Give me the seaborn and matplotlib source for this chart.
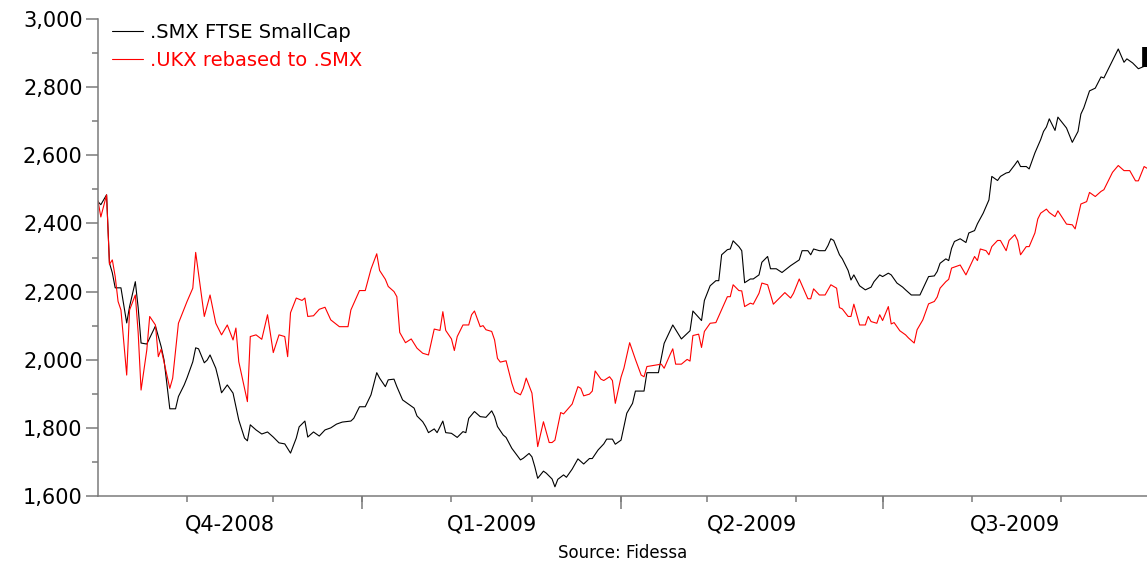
import pandas as pd
import matplotlib
matplotlib.use("Agg")
import matplotlib.pyplot as plt
import matplotlib.dates as mdates
import matplotlib.ticker as mticker
from matplotlib.transforms import offset_copy
import seaborn as sns

sns.set_style("ticks")
plt.rcParams['font.family'] = ['DejaVu Sans']

# day offsets from 1 Oct 2008
start = pd.Timestamp("2008-10-01")

smx_name = ".SMX FTSE SmallCap"
smx_day = [0, 1, 3, 4, 5, 6, 8, 10, 11, 13,
           14, 15, 17, 20, 22, 23, 25, 27, 28, 30,
           31, 33, 34, 35, 37, 38, 39, 41, 42, 43,
           45, 47, 48, 49, 51, 52, 53, 55, 57, 59,
           61, 63, 65, 67, 69, 70, 72, 73, 75, 77,
           79, 81, 83, 85, 88, 89, 91, 93, 95, 97,
           98, 100, 101, 103, 104, 106, 108, 110, 111, 113,
           114, 115, 117, 118, 120, 121, 123, 125, 127, 128,
           129, 131, 133, 135, 137, 138, 139, 141, 142, 144,
           147, 148, 150, 151, 152, 153, 155, 156, 158, 159,
           160, 162, 163, 165, 167, 169, 171, 172, 174, 176,
           177, 179, 180, 182, 184, 186, 187, 190, 191, 195,
           197, 200, 202, 203, 206, 207, 210, 211, 213, 215,
           216, 217, 219, 220, 221, 223, 224, 225, 227, 228,
           230, 231, 233, 234, 236, 238, 241, 244, 245, 247,
           248, 249, 251, 253, 254, 255, 256, 258, 259, 261,
           262, 263, 265, 267, 269, 270, 272, 273, 275, 276,
           278, 280, 281, 283, 286, 289, 291, 292, 293, 295,
           296, 297, 298, 300, 302, 303, 305, 306, 308, 310,
           311, 313, 314, 316, 317, 319, 320, 321, 323, 324,
           326, 328, 329, 330, 331, 333, 334, 337, 339, 341,
           342, 343, 345, 347, 349, 350, 353, 355, 357, 358,
           360, 362, 364, 365]
smx_val = [2464, 2455, 2484, 2284, 2255, 2211, 2211, 2108, 2156, 2229,
           2152, 2049, 2046, 2099, 2038, 1999, 1856, 1856, 1892, 1926,
           1947, 1994, 2035, 2032, 1991, 1999, 2014, 1975, 1941, 1903,
           1926, 1902, 1862, 1823, 1770, 1762, 1809, 1794, 1782, 1788,
           1773, 1756, 1753, 1726, 1770, 1803, 1820, 1773, 1788, 1776,
           1794, 1800, 1811, 1817, 1820, 1828, 1862, 1862, 1897, 1962,
           1946, 1921, 1941, 1943, 1921, 1882, 1870, 1858, 1835, 1818,
           1804, 1786, 1797, 1786, 1820, 1786, 1784, 1772, 1789, 1786,
           1828, 1848, 1833, 1831, 1850, 1833, 1804, 1779, 1772, 1740,
           1706, 1711, 1725, 1715, 1686, 1652, 1673, 1667, 1650, 1627,
           1649, 1662, 1655, 1679, 1709, 1694, 1710, 1710, 1735, 1753,
           1767, 1767, 1752, 1764, 1843, 1872, 1908, 1908, 1962, 1962,
           2048, 2102, 2075, 2061, 2085, 2143, 2115, 2174, 2217, 2232,
           2232, 2308, 2323, 2325, 2349, 2332, 2320, 2226, 2237, 2237,
           2249, 2286, 2303, 2267, 2267, 2256, 2276, 2293, 2320, 2320,
           2308, 2325, 2320, 2320, 2335, 2355, 2350, 2308, 2296, 2262,
           2234, 2249, 2217, 2205, 2213, 2229, 2249, 2244, 2254, 2249,
           2225, 2213, 2205, 2190, 2190, 2244, 2246, 2259, 2283, 2296,
           2291, 2327, 2347, 2355, 2344, 2372, 2379, 2399, 2430, 2469,
           2538, 2526, 2538, 2548, 2550, 2572, 2584, 2567, 2567, 2560,
           2607, 2646, 2670, 2683, 2707, 2673, 2712, 2680, 2638, 2670,
           2721, 2739, 2789, 2797, 2830, 2827, 2878, 2912, 2873, 2883,
           2871, 2854, 2861, 2861]

ukx_name = ".UKX rebased to .SMX"
ukx_day = [0, 1, 3, 4, 5, 6, 7, 8, 10, 11,
           13, 14, 15, 17, 18, 20, 21, 22, 25, 26,
           28, 31, 33, 34, 37, 39, 41, 43, 45, 47,
           48, 49, 52, 53, 55, 57, 59, 61, 63, 65,
           66, 67, 69, 71, 72, 73, 75, 77, 79, 81,
           84, 87, 88, 91, 93, 95, 97, 98, 100, 101,
           103, 104, 105, 107, 109, 111, 113, 115, 117, 119,
           120, 121, 123, 124, 125, 127, 129, 130, 131, 133,
           134, 135, 137, 138, 139, 140, 142, 144, 145, 147,
           148, 149, 151, 153, 155, 157, 158, 159, 161, 162,
           165, 167, 168, 169, 171, 172, 173, 175, 176, 178,
           179, 180, 182, 183, 185, 187, 189, 190, 191, 196,
           197, 199, 200, 201, 203, 205, 206, 207, 209, 210,
           211, 213, 215, 219, 220, 221, 223, 224, 225, 227,
           228, 230, 231, 233, 235, 239, 241, 242, 244, 247,
           248, 249, 251, 253, 255, 257, 258, 259, 261, 262,
           263, 265, 267, 268, 269, 271, 272, 273, 275, 276,
           277, 279, 281, 282, 284, 285, 287, 289, 291, 292,
           293, 295, 296, 297, 300, 302, 305, 306, 307, 309,
           310, 311, 313, 314, 316, 317, 319, 320, 321, 323,
           324, 326, 327, 328, 330, 331, 333, 334, 337, 339,
           340, 342, 344, 345, 347, 349, 350, 353, 355, 357,
           359, 361, 362, 364, 365]
ukx_val = [2467, 2419, 2484, 2280, 2293, 2244, 2171, 2146, 1955, 2146,
           2190, 2078, 1911, 2029, 2127, 2102, 2009, 2031, 1916, 1946,
           2107, 2171, 2210, 2315, 2127, 2190, 2107, 2073, 2102, 2058,
           2093, 1994, 1877, 2068, 2073, 2060, 2132, 2021, 2073, 2068,
           2009, 2138, 2181, 2174, 2181, 2127, 2129, 2148, 2154, 2117,
           2097, 2097, 2146, 2203, 2203, 2266, 2311, 2262, 2236, 2215,
           2200, 2185, 2080, 2050, 2061, 2034, 2019, 2014, 2090, 2086,
           2141, 2086, 2061, 2027, 2068, 2102, 2102, 2132, 2143, 2097,
           2100, 2088, 2083, 2058, 2004, 1993, 1997, 1931, 1906, 1897,
           1916, 1946, 1902, 1745, 1818, 1757, 1757, 1764, 1845, 1841,
           1870, 1921, 1916, 1894, 1899, 1908, 1967, 1943, 1939, 1950,
           1939, 1872, 1949, 1975, 2050, 2001, 1955, 1950, 1980, 1987,
           1975, 2014, 2032, 1987, 1987, 2001, 1996, 2071, 2075, 2036,
           2083, 2107, 2109, 2185, 2185, 2220, 2203, 2202, 2156, 2166,
           2163, 2195, 2225, 2220, 2163, 2197, 2181, 2195, 2237, 2179,
           2179, 2208, 2190, 2190, 2220, 2210, 2153, 2149, 2127, 2127,
           2163, 2102, 2102, 2127, 2112, 2107, 2132, 2115, 2156, 2105,
           2109, 2085, 2073, 2064, 2049, 2088, 2117, 2164, 2171, 2184,
           2210, 2229, 2236, 2269, 2278, 2249, 2303, 2291, 2325, 2320,
           2308, 2332, 2350, 2350, 2320, 2350, 2367, 2350, 2308, 2332,
           2332, 2372, 2413, 2430, 2442, 2432, 2420, 2437, 2398, 2396,
           2384, 2457, 2464, 2491, 2479, 2494, 2499, 2550, 2570, 2555,
           2555, 2525, 2525, 2567, 2562]

quarter_starts = ["2008-10-01", "2009-01-01", "2009-04-01", "2009-07-01", "2009-10-01"]
quarter_labels = ["Q4-2008", "Q1-2009", "Q2-2009", "Q3-2009"]

df = pd.concat([
    pd.DataFrame({"date": start + pd.to_timedelta(smx_day, unit="D"),
                  "value": smx_val, "series": smx_name}),
    pd.DataFrame({"date": start + pd.to_timedelta(ukx_day, unit="D"),
                  "value": ukx_val, "series": ukx_name}),
], ignore_index=True)

fig = plt.figure(figsize=(11.47, 5.62), dpi=100)
ax = fig.add_axes([0.0854, 0.1174, 0.9146, 0.8488])

sns.lineplot(data=df, x="date", y="value", hue="series",
             palette={smx_name: "black", ukx_name: "#ff0000"},
             estimator=None, sort=False, linewidth=0.8, ax=ax)

# last value box on the SMX line
box_tr = offset_copy(ax.transData, fig=fig, x=0, y=7, units="points")
ax.plot(df[df.series == smx_name].date.iloc[-1:], smx_val[-1:],
        marker="|", ms=15, mew=7, color="black", clip_on=False, transform=box_tr)

grey = "#7a7a7a"
q = pd.to_datetime(quarter_starts)
mids = [q[i] + (q[i + 1] - q[i]) / 2 for i in range(len(quarter_labels))]

ax.set_xlim(q[0], q[-1])
ax.set_xticks(mids)
ax.set_xticklabels(quarter_labels)
ax.set_xticks(pd.date_range(q[0], q[-1], freq="MS")[1:-1], minor=True)
ax.tick_params(axis="x", which="major", length=0, pad=13, labelsize=15, labelcolor="black")
ax.tick_params(axis="x", which="minor", length=4, width=1.1, color=grey)

# longer ticks at the inner quarter boundaries
sec = ax.secondary_xaxis("bottom")
sec.set_xticks(mdates.date2num(q[1:-1]))
sec.set_xticklabels([])
sec.tick_params(length=9, width=1.1, color=grey)
sec.spines["bottom"].set_visible(False)

ax.set_ylim(1600, 3000)
ax.yaxis.set_major_locator(mticker.MultipleLocator(200))
ax.yaxis.set_minor_locator(mticker.MultipleLocator(100))
ax.yaxis.set_major_formatter(mticker.StrMethodFormatter("{x:,.0f}"))
ax.tick_params(axis="y", which="major", length=9, width=1.1, color=grey, pad=2,
               labelsize=15, labelcolor="black")
ax.tick_params(axis="y", which="minor", length=4.5, width=1.1, color=grey)

ax.spines[["top", "right"]].set_visible(False)
for s in ["left", "bottom"]:
    ax.spines[s].set_color(grey)
    ax.spines[s].set_linewidth(1.1)

ax.set_ylabel("")
ax.set_xlabel("Source: Fidessa", fontsize=12, labelpad=7, color="black")

leg = ax.legend(loc="upper left", bbox_to_anchor=(0.0, 1.02), frameon=False,
                fontsize=14, handlelength=1.6, handletextpad=0.4,
                borderaxespad=0.3, labelspacing=0.45)
for t, l in zip(leg.get_texts(), leg.get_lines()):
    t.set_color(l.get_color())
    l.set_linewidth(0.8)

fig.savefig("out.png", dpi=100)
